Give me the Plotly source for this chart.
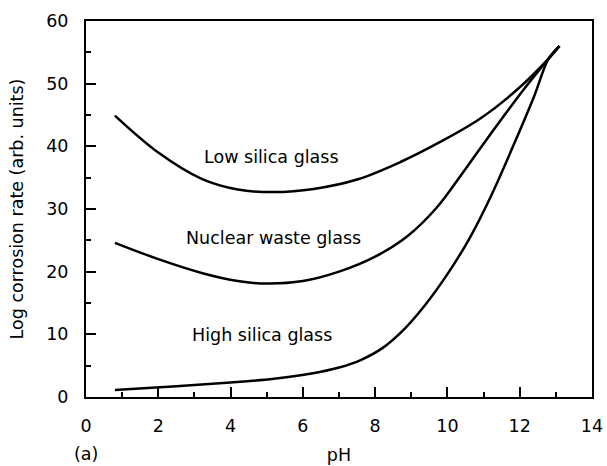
import plotly.graph_objects as go

# pH values and log corrosion rates for each glass type
ph_low = [0.8, 2.0, 3.2, 4.2, 5.2, 6.3, 7.5, 8.7, 9.8, 10.9, 11.9, 12.8, 13.1]
rate_low = [44.9, 39.0, 34.8, 33.1, 32.7, 33.2, 34.7, 37.5, 40.7, 44.4, 48.9, 54.0, 56.0]

ph_nuclear = [0.8, 2.0, 3.2, 4.2, 5.0, 6.0, 7.0, 8.0, 8.9, 9.7, 10.5, 11.3, 12.1, 12.8, 13.1]
rate_nuclear = [24.6, 22.0, 19.8, 18.5, 18.1, 18.5, 20.0, 22.4, 25.7, 30.2, 36.4, 42.8, 49.0, 54.0, 56.0]

ph_high = [0.8, 2.5, 4.0, 5.2, 6.2, 7.0, 7.6, 8.2, 8.8, 9.4, 10.0, 10.6, 11.2, 11.8, 12.4, 12.8, 13.1]
rate_high = [1.1, 1.7, 2.3, 2.9, 3.7, 4.7, 5.9, 7.8, 10.8, 14.8, 19.6, 25.2, 32.0, 39.8, 48.0, 54.0, 56.0]

curve_labels = ["Low silica glass", "Nuclear waste glass", "High silica glass"]
label_ph = [5.14, 5.2, 4.86]
label_rate = [38.3, 25.4, 9.9]

x_ticks = [0, 2, 4, 6, 8, 10, 12, 14]
y_ticks = [0, 10, 20, 30, 40, 50, 60]

FONT = "DejaVu Sans"
SIZE = 17.5

fig = go.Figure()
for xs, ys in [(ph_low, rate_low), (ph_nuclear, rate_nuclear), (ph_high, rate_high)]:
    fig.add_trace(go.Scatter(
        x=xs, y=ys, mode="lines",
        line=dict(color="black", width=2.5, shape="spline", smoothing=1.0),
        showlegend=False, hoverinfo="skip",
    ))

for text, xv, yv in zip(curve_labels, label_ph, label_rate):
    fig.add_annotation(x=xv, y=yv, text=text, showarrow=False,
                       font=dict(family=FONT, size=SIZE, color="black"))

fig.add_annotation(xref="paper", yref="paper", x=0, y=0, yshift=-57,
                   text="(a)", showarrow=False, xanchor="center", yanchor="middle",
                   font=dict(family=FONT, size=SIZE, color="black"))

axis_common = dict(
    showline=True, linecolor="black", linewidth=2, mirror=True,
    ticks="inside", ticklen=10, tickwidth=2, tickcolor="black",
    showgrid=False, zeroline=False,
    tickfont=dict(family=FONT, size=SIZE, color="black"),
)

fig.update_xaxes(
    range=[0, 14], tickvals=x_ticks, ticklabelstandoff=12,
    minor=dict(ticks="inside", ticklen=5, tickwidth=2, tickcolor="black", dtick=1, showgrid=False),
    title=dict(text="pH", font=dict(family=FONT, size=SIZE, color="black"), standoff=14),
    **axis_common,
)
fig.update_yaxes(
    range=[0, 60], tickvals=y_ticks, ticklabelstandoff=12,
    minor=dict(ticks="inside", ticklen=5, tickwidth=2, tickcolor="black", dtick=5, showgrid=False),
    title=dict(text="Log corrosion rate (arb. units)", font=dict(family=FONT, size=SIZE, color="black"), standoff=18),
    **axis_common,
)

fig.update_layout(
    width=607, height=466,
    margin=dict(l=86, r=15, t=21, b=69, autoexpand=False),
    plot_bgcolor="white", paper_bgcolor="white",
)

fig.write_html("out.html")
